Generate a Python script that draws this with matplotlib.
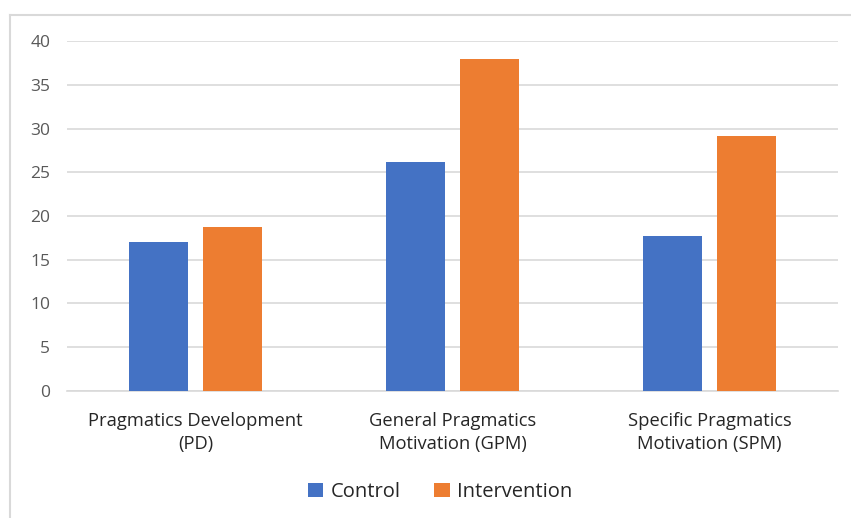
import numpy as np
import matplotlib
matplotlib.use("Agg")
import matplotlib.pyplot as plt
from matplotlib.lines import Line2D

categories = ["Pragmatics Development\n(PD)",
              "General Pragmatics\nMotivation (GPM)",
              "Specific Pragmatics\nMotivation (SPM)"]
control = [17.0, 26.2, 17.7]
intervention = [18.7, 38.0, 29.2]
yticks = [0, 5, 10, 15, 20, 25, 30, 35, 40]

plt.rcParams["font.family"] = ["Open Sans", "DejaVu Sans"]

W, H = 851, 518
fig = plt.figure(figsize=(W / 100, H / 100), dpi=100)
ax = fig.add_axes([67 / W, 1 - 390.7 / H, (838 - 67) / W, (390.7 - 41.3) / H])

x = np.arange(len(categories))
bw = 0.227
off = 0.1445
ax.bar(x - off, control, bw, color="#4472C4", label="Control", zorder=3)
ax.bar(x + off, intervention, bw, color="#ED7D31", label="Intervention", zorder=3)

ax.set_xlim(-0.5, 2.5)
ax.set_ylim(0, 40)
ax.set_yticks(yticks)
ax.set_yticklabels([str(t) for t in yticks], fontsize=12.5, color="#595959")
ax.set_xticks(x)
ax.set_xticklabels(categories, fontsize=13.2, color="#262626", linespacing=1.4)
ax.tick_params(axis="both", length=0)
ax.tick_params(axis="y", pad=12)
ax.tick_params(axis="x", pad=15)
ax.grid(axis="y", color="#D9D9D9", linewidth=1.2, zorder=0)
for s in ["top", "right", "left"]:
    ax.spines[s].set_visible(False)
ax.spines["bottom"].set_color("#D9D9D9")
ax.spines["bottom"].set_linewidth(1.2)

fig.legend(loc="center", bbox_to_anchor=(440 / W, 1 - 492 / H), ncol=2,
           frameon=False, fontsize=14.5, handlelength=0.75, handleheight=0.75,
           handletextpad=0.35, columnspacing=1.7, labelcolor="#262626")

# outer chart border (top and left edges visible)
fig.add_artist(Line2D([10 / W, 1], [1 - 15 / H, 1 - 15 / H], color="#D9D9D9", lw=1.5))
fig.add_artist(Line2D([10 / W, 10 / W], [0, 1 - 15 / H], color="#D9D9D9", lw=1.5))

fig.savefig("out.png", dpi=100)
